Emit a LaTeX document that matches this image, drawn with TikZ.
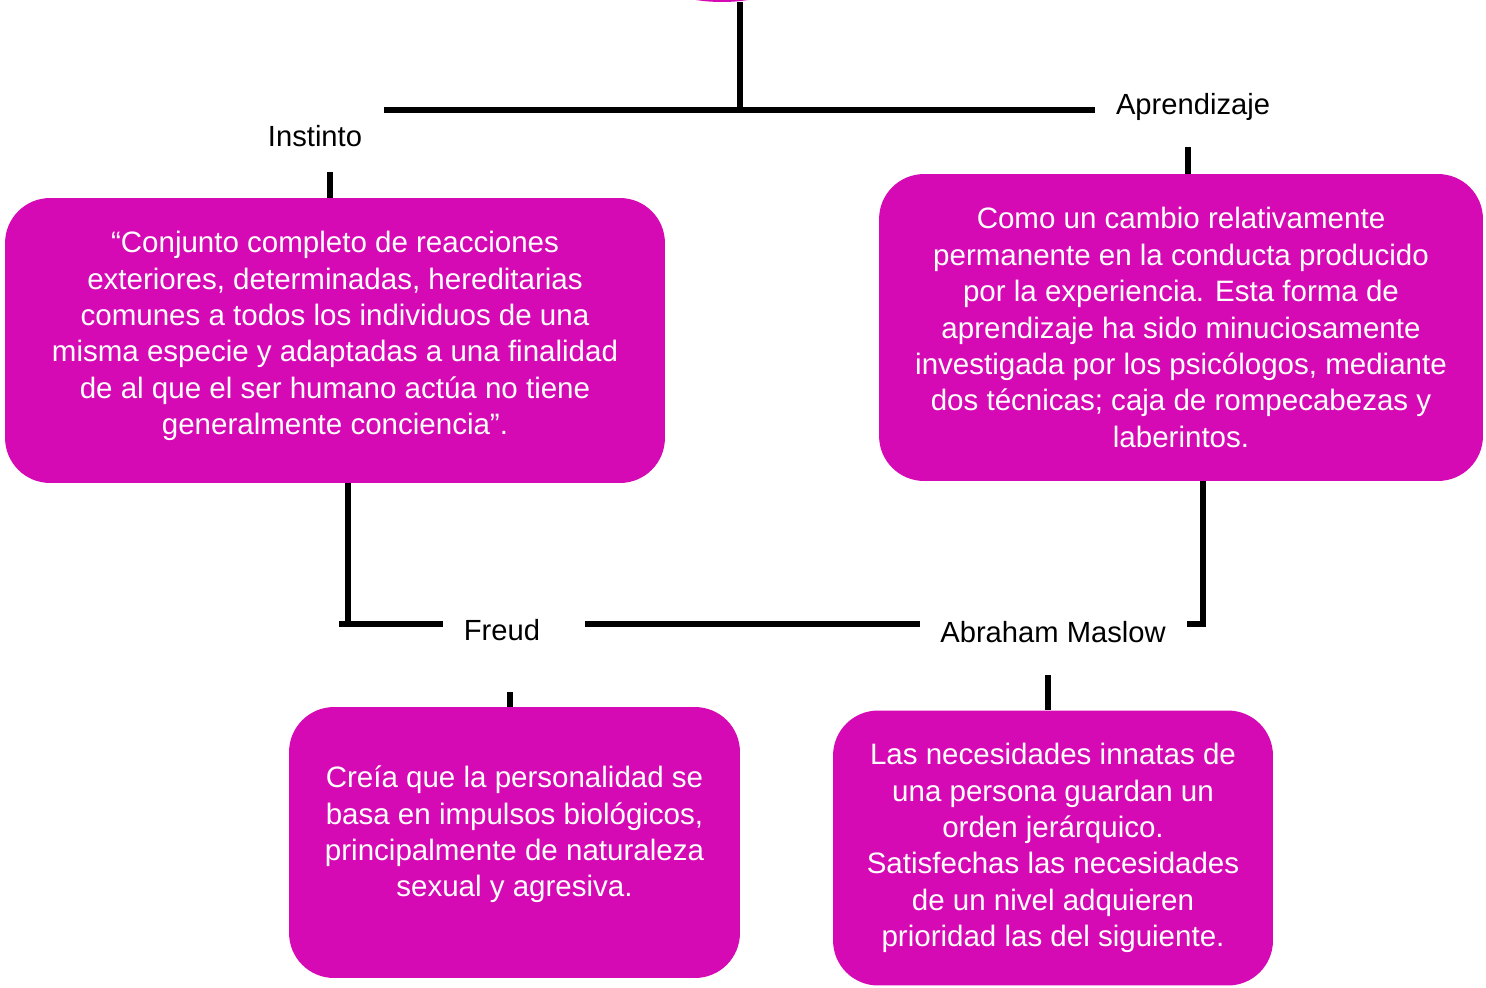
\documentclass[tikz,border=0pt]{standalone}
\usepackage{fontspec}
\setmainfont{Liberation Sans}
\usepackage{xcolor}
\usetikzlibrary{shapes.geometric}

\definecolor{rosa}{HTML}{D60AB4}

\tikzset{
  caja/.style={fill=rosa, text=white, rounded corners=0.9cm, align=center,
               font=\fontsize{16.8}{20.7}\selectfont, inner sep=0pt},
  etiqueta/.style={font=\fontsize{16.6}{20.7}\selectfont, inner sep=0pt},
  linea/.style={line width=3.4pt}
}

\begin{document}
\begin{tikzpicture}[x=0.02cm, y=-0.02cm]
  \useasboundingbox (0,0) rectangle (1486,987);

  % nodo superior (cortado)
  \node[ellipse, fill=rosa, minimum width=3cm, minimum height=1.28cm] (raiz) at (722,-30) {};

  % cajas
  \node[caja, minimum width=13.2cm, minimum height=5.7cm] (instinto) at (335,340.5)
    {``Conjunto completo de reacciones\\ exteriores, determinadas, hereditarias\\
     comunes a todos los individuos de una\\ misma especie y adaptadas a una finalidad\\
     de al que el ser humano actúa no tiene\\ generalmente conciencia''.\\[-12pt]};
  \node[caja, minimum width=12.08cm, minimum height=6.14cm] (aprend) at (1181,327.5)
    {Como un cambio relativamente\\ permanente en la conducta producido\\
     por la experiencia. Esta forma de\\ aprendizaje ha sido minuciosamente\\
     investigada por los psicólogos, mediante\\ dos técnicas; caja de rompecabezas y\\ laberintos.};
  \node[caja, minimum width=9.02cm, minimum height=5.42cm] (freud) at (514.5,842.5)
    {Creía que la personalidad se\\ basa en impulsos biológicos,\\
     principalmente de naturaleza\\ sexual y agresiva.\\[-8pt]};
  \node[caja, minimum width=8.8cm, minimum height=5.5cm] (maslow) at (1053,848)
    {Las necesidades innatas de\\ una persona guardan un\\ orden jerárquico.\\
     Satisfechas las necesidades\\ de un nivel adquieren\\ prioridad las del siguiente.};

  % etiquetas
  \node[etiqueta] (tInst) at (315,136) {Instinto};
  \node[etiqueta] (tAprend) at (1193,107) {Aprendizaje};
  \node[etiqueta] (tFreud) at (502,630) {Freud};
  \node[etiqueta] (tMaslow) at (1053,632) {Abraham Maslow};

  % puntos de union
  \coordinate (cSup) at (740,110);
  \coordinate (cIzq) at (384,110);
  \coordinate (cDer) at (1095,110);
  \coordinate (cInst) at (330,172);
  \coordinate (cAprend) at (1188,147);
  \coordinate (cFreudA) at (339,624);
  \coordinate (cFreudB) at (443,624);
  \coordinate (cFreudC) at (585,624);
  \coordinate (cMaslowA) at (920,624);
  \coordinate (cMaslowB) at (1187,624);
  \coordinate (cFreudD) at (510,692);
  \coordinate (cMaslowC) at (1048,675);

  % conectores
  \draw[linea] (raiz.south -| cSup) -- (cSup);
  \draw[linea] (cIzq) -- (cDer);
  \draw[linea] (cInst) -- (cInst |- instinto.north);
  \draw[linea] (cAprend) -- (cAprend |- aprend.north);
  \draw[linea] (instinto.south -| 348,0) |- (cFreudB);
  \draw[linea] (cFreudA) -- (348,624);
  \draw[linea] (cFreudC) -- (cMaslowA);
  \draw[linea] (aprend.south -| 1203,0) |- (cMaslowB);
  \draw[linea] (cFreudD) -- (cFreudD |- freud.north);
  \draw[linea] (cMaslowC) -- (cMaslowC |- maslow.north);
\end{tikzpicture}
\end{document}
